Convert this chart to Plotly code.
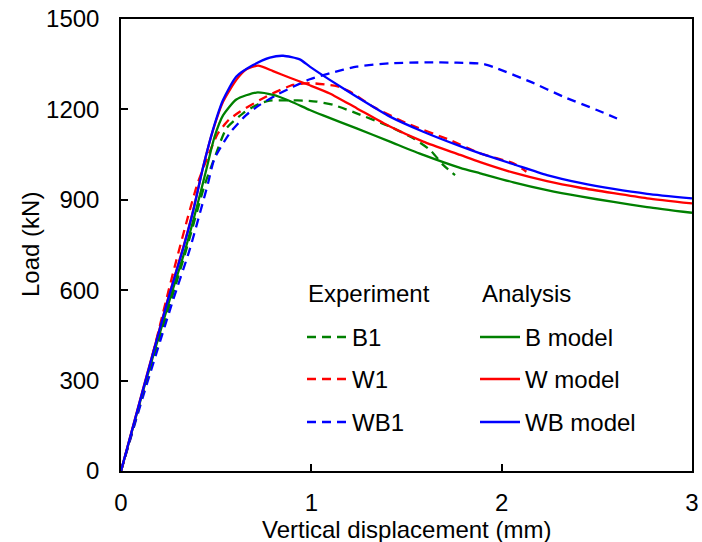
import plotly.graph_objects as go

# ---- data ----
b1_x = [0, 0.12, 0.26, 0.35, 0.44, 0.492, 0.554, 0.641, 0.729, 0.782, 0.88, 0.975, 1.027, 1.115, 1.238, 1.413, 1.536, 1.624, 1.694, 1.755]
b1_y = [0, 265, 560, 750, 950, 1040, 1137, 1187, 1220, 1229, 1230, 1229, 1226, 1215, 1187, 1143, 1104, 1065, 1015, 982]

w1_x = [0, 0.12, 0.246, 0.282, 0.352, 0.40, 0.457, 0.509, 0.566, 0.624, 0.729, 0.817, 0.904, 0.992, 1.133, 1.203, 1.325, 1.501, 1.729, 1.887, 2.062, 2.13]
w1_y = [0, 270, 589, 678, 844, 950, 1045, 1120, 1165, 1192, 1231, 1259, 1281, 1287, 1277, 1259, 1209, 1154, 1098, 1054, 1021, 993]

wb1_x = [0, 0.115, 0.273, 0.36, 0.457, 0.49, 0.571, 0.659, 0.729, 0.817, 0.904, 0.992, 1.097, 1.238, 1.413, 1.6, 1.764, 1.904, 1.975, 2.15, 2.325, 2.5, 2.606]
wb1_y = [0, 246, 566, 733, 954, 1035, 1121, 1182, 1215, 1248, 1275, 1300, 1320, 1342, 1353, 1356, 1355, 1351, 1336, 1292, 1242, 1198, 1170]

bm_x = [0, 0.12, 0.255, 0.34, 0.40, 0.448, 0.492, 0.536, 0.606, 0.711, 0.799, 0.887, 0.992, 1.062, 1.238, 1.413, 1.588, 1.782, 1.887, 2.062, 2.238, 2.413, 2.588, 2.764, 3.0]
bm_y = [0, 275, 567, 740, 880, 1000, 1110, 1180, 1233, 1256, 1248, 1228, 1198, 1180, 1137, 1093, 1049, 1006, 988, 958, 932, 911, 893, 876, 857]

wm_x = [0, 0.12, 0.246, 0.325, 0.378, 0.431, 0.483, 0.536, 0.606, 0.659, 0.72, 0.799, 0.887, 0.992, 1.097, 1.238, 1.413, 1.588, 1.782, 1.887, 2.062, 2.238, 2.413, 2.588, 2.764, 3.0]
wm_y = [0, 282, 570, 738, 862, 1008, 1130, 1225, 1298, 1333, 1345, 1327, 1305, 1280, 1253, 1204, 1143, 1093, 1049, 1025, 990, 962, 940, 922, 905, 888]

wbm_x = [0, 0.12, 0.246, 0.325, 0.378, 0.431, 0.483, 0.536, 0.606, 0.694, 0.782, 0.852, 0.939, 0.992, 1.097, 1.238, 1.413, 1.588, 1.782, 1.887, 2.062, 2.238, 2.413, 2.588, 2.764, 3.0]
wbm_y = [0, 280, 567, 735, 860, 1007, 1132, 1231, 1309, 1347, 1372, 1378, 1366, 1342, 1298, 1242, 1176, 1126, 1078, 1054, 1018, 982, 956, 936, 920, 905]

x_ticks = [0, 1, 2, 3]
y_ticks = [0, 300, 600, 900, 1200, 1500]
x_title = "Vertical displacement (mm)"
y_title = "Load (kN)"

GREEN = "#008000"
RED = "#ff0000"
BLUE = "#0000ff"
DASH = "9px,6px"
FONT = "Liberation Sans, Arial, sans-serif"
FS = 24

series = [
    ("B1", b1_x, b1_y, GREEN, DASH),
    ("W1", w1_x, w1_y, RED, DASH),
    ("WB1", wb1_x, wb1_y, BLUE, DASH),
    ("B model", bm_x, bm_y, GREEN, "solid"),
    ("W model", wm_x, wm_y, RED, "solid"),
    ("WB model", wbm_x, wbm_y, BLUE, "solid"),
]

fig = go.Figure()
for name, xs, ys, col, dash in series:
    fig.add_trace(go.Scatter(x=xs, y=ys, name=name, mode="lines",
                             line=dict(color=col, width=2.3, dash=dash, shape="spline", smoothing=0.6),
                             showlegend=False))

fig.update_layout(
    width=702, height=542,
    margin=dict(l=121, r=10, t=19, b=71),
    paper_bgcolor="white", plot_bgcolor="white",
    font=dict(family=FONT, size=FS, color="black"),
)
axis_common = dict(showline=True, linecolor="black", linewidth=1.5, mirror=True,
                   ticks="inside", ticklen=7, tickwidth=1.5, tickcolor="black",
                   showgrid=False, zeroline=False, automargin=False,
                   tickfont=dict(family=FONT, size=FS, color="black"))
fig.update_xaxes(range=[0, 3], tickvals=x_ticks, ticklabelstandoff=9, **axis_common)
fig.update_yaxes(range=[0, 1500], tickvals=y_ticks, ticklabelstandoff=15, **axis_common)

# ---- axis titles ----
def px_x(p):
    return (p - 121) / 571.0

def px_y(p):
    return (471 - p) / 452.0

fig.add_annotation(x=0.5, y=px_y(529), xref="paper", yref="paper", text=x_title,
                   showarrow=False, xanchor="center", yanchor="middle",
                   font=dict(family=FONT, size=FS, color="black"))
fig.add_annotation(x=px_x(30), y=px_y(245), xref="paper", yref="paper", text=y_title,
                   showarrow=False, xanchor="center", yanchor="middle", textangle=-90,
                   font=dict(family=FONT, size=FS, color="black"))

# ---- legend drawn as two columns ----
headers = [("Experiment", 306), ("Analysis", 480)]
for text, xl in headers:
    fig.add_annotation(x=px_x(xl), y=px_y(293), xref="paper", yref="paper",
                       text=text, showarrow=False, xanchor="left", yanchor="middle",
                       font=dict(family=FONT, size=FS, color="black"))

rows = [337, 379, 422]
exp_items = series[:3]
ana_items = series[3:]
for (name, _, _, col, dash), ry in zip(exp_items, rows):
    fig.add_shape(type="line", xref="paper", yref="paper",
                  x0=px_x(307), x1=px_x(348), y0=px_y(ry), y1=px_y(ry),
                  line=dict(color=col, width=2.3, dash=dash))
    fig.add_annotation(x=px_x(350), y=px_y(ry), xref="paper", yref="paper",
                       text=name, showarrow=False, xanchor="left", yanchor="middle",
                       font=dict(family=FONT, size=FS, color="black"))
for (name, _, _, col, dash), ry in zip(ana_items, rows):
    fig.add_shape(type="line", xref="paper", yref="paper",
                  x0=px_x(480), x1=px_x(520), y0=px_y(ry), y1=px_y(ry),
                  line=dict(color=col, width=2.3, dash=dash))
    fig.add_annotation(x=px_x(523), y=px_y(ry), xref="paper", yref="paper",
                       text=name, showarrow=False, xanchor="left", yanchor="middle",
                       font=dict(family=FONT, size=FS, color="black"))

fig.write_html("out.html")
